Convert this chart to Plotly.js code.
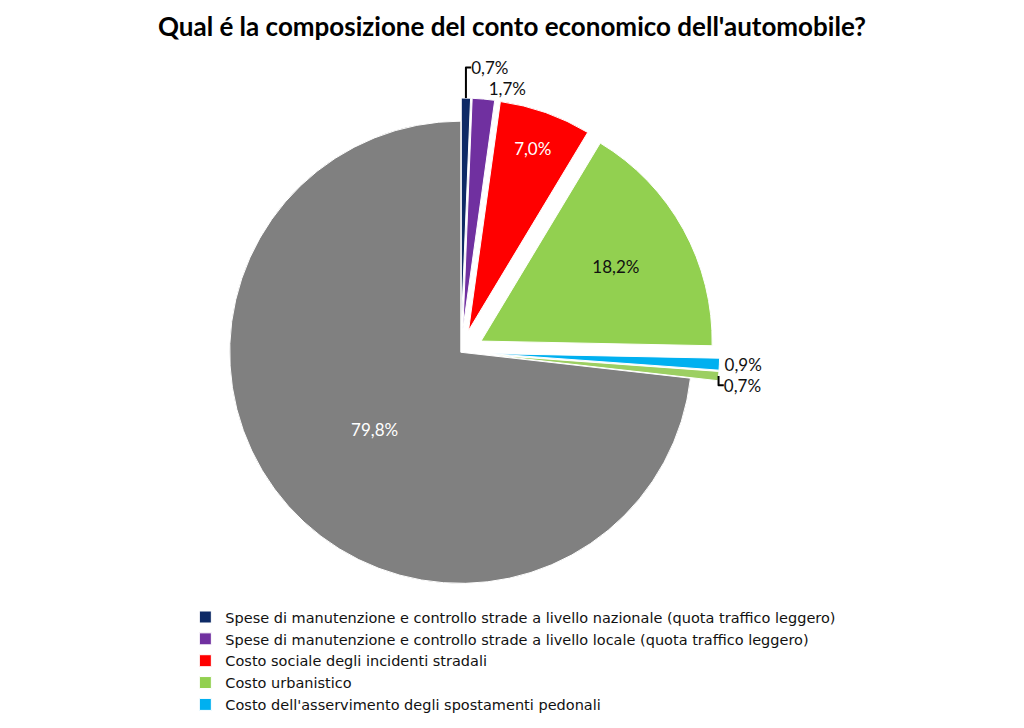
<!DOCTYPE html>
<html>
<head>
<meta charset="utf-8">
<script src="https://cdn.plot.ly/plotly-3.0.1.min.js"></script>
<style>
  html, body { margin: 0; padding: 0; background: #fff; overflow: hidden; }
  .legend .scrollbar { display: none; }
</style>
</head>
<body>
<div id="chart"></div>
<script>
// voci del conto economico (l'ultima parte della legenda e' tagliata nell'originale)
var labels = [
    'Spese di manutenzione e controllo strade a livello nazionale (quota traffico leggero)',
    'Spese di manutenzione e controllo strade a livello locale (quota traffico leggero)',
    'Costo sociale degli incidenti stradali',
    'Costo urbanistico',
    "Costo dell'asservimento degli spostamenti pedonali",
    'Costo della sosta',
    'Costo privato'
];
var values = [0.7, 1.7, 7.0, 18.2, 0.9, 0.7, 79.8];
var colors = ['#0e2a66', '#7030a0', '#ff0000', '#92d050', '#00b0f0', '#9ccf62', '#808080'];
var positions = ['outside', 'outside', 'inside', 'inside', 'outside', 'outside', 'inside'];
var labelColors = ['#111', '#111', '#fff', '#111', '#111', '#111', '#fff'];
var pulls = [0.1, 0.1, 0.1, 0.1, 0.12, 0.12, 0];
var shownLegend = 5;

var texts = values.map(v => v.toFixed(1).replace('.', ',') + '%');

var data = [{
    type: 'pie',
    labels: labels,
    values: values,
    text: texts,
    textinfo: 'text',
    textposition: positions,
    insidetextorientation: 'horizontal',
    textfont: { family: 'Lato, sans-serif', size: 17, color: labelColors },
    sort: false,
    direction: 'clockwise',
    rotation: 0,
    pull: pulls,
    automargin: false,
    marker: {
        colors: colors,
        line: { color: '#ffffff', width: 1 }
    },
    domain: { x: [0.16, 0.74], y: [0.175, 0.95] },
    hoverinfo: 'label+text'
}];

var layout = {
    width: 1024,
    height: 728,
    margin: { l: 0, r: 0, t: 60, b: 0 },
    paper_bgcolor: '#ffffff',
    title: {
        text: "<b>Qual é la composizione del conto economico dell'automobile?</b>",
        font: { family: 'Lato, sans-serif', size: 26, color: '#000' },
        x: 0.5,
        xanchor: 'center',
        y: 0.976,
        yanchor: 'top'
    },
    showlegend: true,
    legend: {
        x: 0.181,
        xanchor: 'left',
        y: 0.19,
        yanchor: 'top',
        maxheight: 116,
        font: { family: 'DejaVu Sans, sans-serif', size: 14.5, color: '#111' },
        itemwidth: 30,
        bgcolor: 'rgba(0,0,0,0)'
    }
};

Plotly.newPlot('chart', data, layout, { staticPlot: true }).then(function(gd) {
    // nell'originale si vedono solo le prime cinque voci della legenda
    gd.querySelectorAll('.legend .traces').forEach(function(t, i) {
        if (i >= shownLegend) t.remove();
    });
});
</script>
</body>
</html>
